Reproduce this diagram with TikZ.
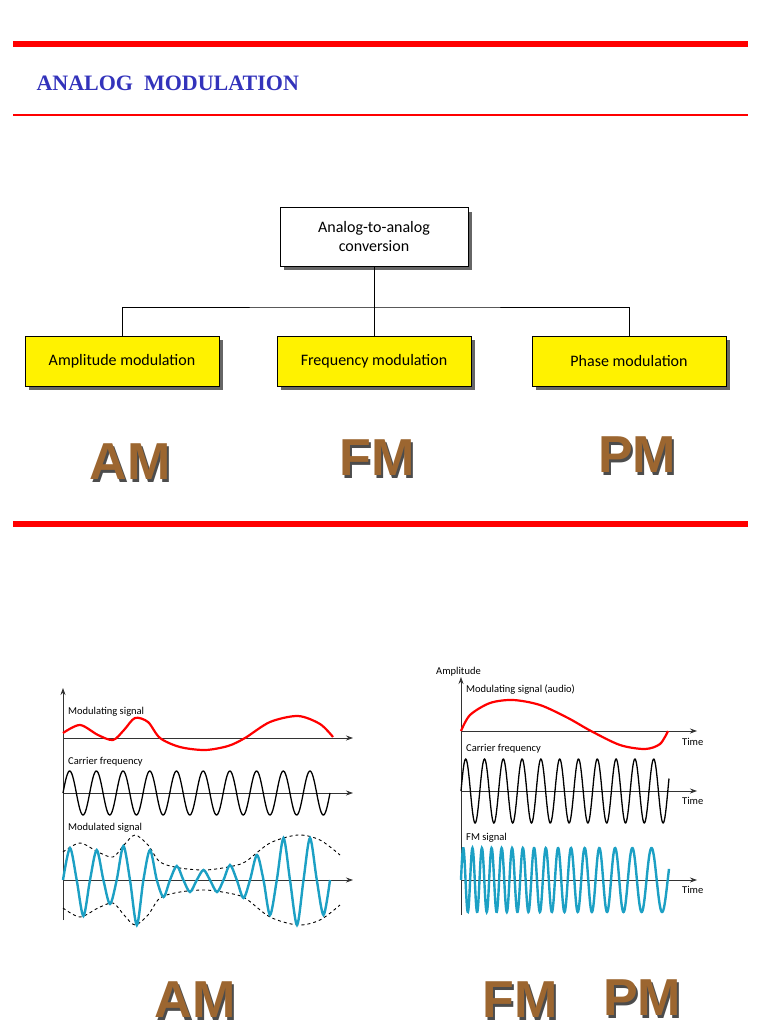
\documentclass[tikz,border=0pt]{standalone}
\usepackage{fontspec}
\setmainfont{Liberation Serif}
\newfontfamily\carfont{Carlito}
\newfontfamily\bigfont{Liberation Sans}
\usetikzlibrary{arrows.meta,shadows}
\definecolor{titleblue}{HTML}{3333BB}
\definecolor{brn}{HTML}{9C6630}
\definecolor{cyanw}{HTML}{1CA0C4}
\tikzset{
 boxn/.style={draw, line width=1pt, minimum height=50pt, align=center, font=\carfont\fontsize{16}{19}\selectfont, drop shadow={shadow xshift=4pt, shadow yshift=-4pt, fill=black!60, opacity=1}},
 ybox/.style={boxn, fill=yellow, minimum width=194pt},
 bigl/.style={font=\bigfont\bfseries\fontsize{52}{52}\selectfont, text=brn},
 bigs/.style={font=\bigfont\bfseries\fontsize{52}{52}\selectfont, text=black!70},
 ax/.style={line width=0.8pt, black!80, -{Stealth[length=7pt,width=5pt]}},
 lbl/.style={font=\carfont\fontsize{10.5}{12}\selectfont, anchor=west, inner sep=0pt},
}
\begin{document}
\begin{tikzpicture}[x=1pt,y=-1pt]
\useasboundingbox (0,0) rectangle (768,1024);
\draw[red, line width=6pt] (13,44) -- (748,44);
\draw[red,line width=1.5pt] (13,115) -- (748,115);
\draw[red, line width=6pt] (13,524) -- (748,524);
\node[anchor=west,text=titleblue,font=\bfseries\fontsize{22}{24}\selectfont] (title) at (33,83) {ANALOG\ \ MODULATION};

\node[boxn, fill=white, minimum width=188pt, minimum height=58pt] (top) at (374,237) {Analog-to-analog\\conversion};
\node[ybox] (am) at (122,361) {Amplitude modulation};
\node[ybox] (fm) at (374,361) {Frequency modulation};
\node[ybox] (pm) at (629,361) {Phase modulation};
\coordinate (j) at (374,307);
\draw[line width=1pt] (top.south) -- (j);
\draw[line width=1pt] (am.north) |- (j) -| (pm.north);
\draw[line width=1pt] (j) -- (fm.north);

\foreach \t/\x/\y/\n in {AM/130/462/a1,FM/377/458/f1,PM/637/455/p1,AM/195/1000/a2,FM/520/1000/f2,PM/642/998/p2}{
  \node[bigs] at (\x+2,\y+3) {\t};
  \node[bigl] (\n) at (\x,\y) {\t};
}

% AM diagram
\draw[ax] (63,920) -- (63,688);
\draw[ax] (63,738) -- (353,738);
\draw[ax] (63,793) -- (353,793);
\draw[ax] (63,880) -- (353,880);
\node[lbl] at (68,712) {Modulating signal};
\node[lbl] at (68,762) {Carrier frequency};
\node[lbl] at (68,828) {Modulated signal};
\draw[red,line width=2.2pt] plot[smooth] coordinates {(63,733) (80,725) (98,735) (113,740) (124,730) (135,718) (148,722) (160,738) (180,747) (205,750) (228,746) (245,738) (270,722) (298,716) (320,724) (333,737)};
\draw[line width=1.3pt] plot[domain=63:330,samples=300] (\x,{793-22*sin((\x-63)*13.483)});
\draw[dashed,line width=0.9pt] plot[smooth] coordinates {(63,852) (80,843) (98,852) (113,857) (124,845) (135,835) (148,845) (160,862) (180,868) (205,870) (228,867) (245,862) (270,843) (298,835) (320,840) (340,855)};
\draw[dashed,line width=0.9pt] plot[smooth] coordinates {(63,908) (80,917) (98,908) (113,903) (124,915) (135,925) (148,915) (160,898) (180,892) (205,890) (228,893) (245,898) (270,917) (298,925) (320,920) (340,905)};
\draw[cyanw,line width=2.4pt] plot[smooth] coordinates {(63,880) (70,848) (76.7,880) (83.4,916) (90,880) (96.7,850) (103.4,880) (110,904) (116.7,880) (123.4,846) (130,880) (136.8,925) (143.4,880) (150,850) (156.8,880) (163.5,897) (170,880) (176.8,866) (183.4,880) (190,892) (196.8,880) (203.5,870) (210,880) (217,892) (223.5,880) (230,865) (236.8,880) (243.5,898) (250,880) (257,855) (263.5,880) (270,915) (276.8,880) (283.5,838) (290,880) (297,925) (303.5,880) (310,838) (316.8,880) (323.5,915) (330,880)};

% FM diagram
\draw[ax] (461,915) -- (461,677);
\draw[ax] (461,731) -- (697,731);
\draw[ax] (461,791) -- (697,791);
\draw[ax] (461,880) -- (697,880);
\node[lbl,anchor=south west] at (436,676) {Amplitude};
\node[lbl] at (466,690) {Modulating signal (audio)};
\node[lbl] at (466,749) {Carrier frequency};
\node[lbl] at (466,838) {FM signal};
\foreach \y in {742,801,890}{\node[lbl] at (682,\y) {Time};}
\draw[red,line width=2.2pt] plot[smooth] coordinates {(461,731) (470,715) (490,703) (513,700) (540,705) (568,718) (591,731) (620,745) (645,749) (660,744) (668,731)};
\draw[line width=1.3pt] plot[domain=461:669,samples=400] (\x,{791-32*sin((\x-461)*19.149)});
\draw[cyanw,line width=2.4pt] plot[domain=0:208,samples=600] ({461+\x},{880-32*sin(40*\x-(0.0587*\x)*\x)});
\end{tikzpicture}
\end{document}
